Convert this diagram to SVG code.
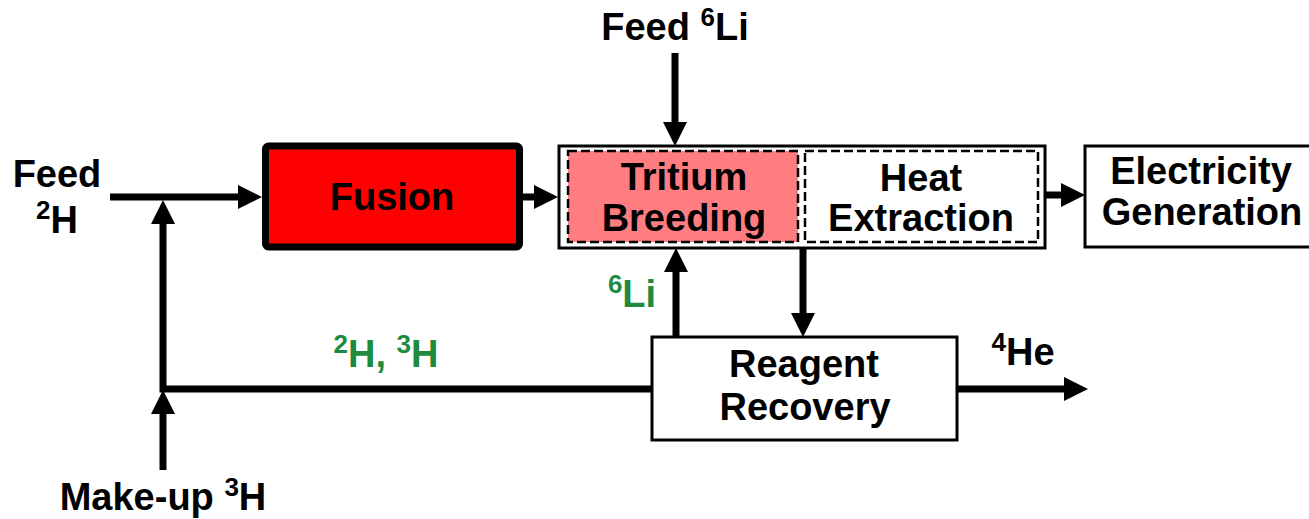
<svg xmlns="http://www.w3.org/2000/svg" width="1309" height="519" viewBox="0 0 1309 519">
  <style>
    text { font-family: "Liberation Sans", Arial, sans-serif; font-weight: bold; font-size: 38px; fill: #000; text-anchor: middle; }
    .green { fill: #1E8B3E; }
    .box { fill: #fff; stroke: #000; stroke-width: 3; }
    .dash { stroke: #000; stroke-width: 2.5; stroke-dasharray: 9 4; }
    .flow { fill: none; stroke: #000; stroke-width: 7; marker-end: url(#head); }
  </style>
  <defs>
    <marker id="head" viewBox="0 0 24 24" refX="2" refY="12" markerWidth="24" markerHeight="24" markerUnits="userSpaceOnUse" orient="auto">
      <path d="M0,0 L24,12 L0,24 Z" fill="#000"/>
    </marker>
  </defs>
  <rect width="1309" height="519" fill="#fff"/>

  <!-- connectors -->
  <g id="connectors">
    <path class="flow" d="M110,197 H240"/>
    <path class="flow" d="M163,470 V412"/>
    <path class="flow" d="M651,389 H163 V222"/>
    <path class="flow" d="M523,197 H536"/>
    <path class="flow" d="M675,53 V124"/>
    <path class="flow" d="M676,337 V270"/>
    <path class="flow" d="M803,248 V315"/>
    <path class="flow" d="M1045,195 H1063"/>
    <path class="flow" d="M957,389 H1066"/>
  </g>

  <!-- stream labels -->
  <g id="labels">
    <text x="57" y="187">Feed</text>
    <text x="57" y="233"><tspan font-size="26" dy="-14">2</tspan><tspan dy="14">H</tspan></text>
    <text x="675" y="40">Feed <tspan font-size="26" dy="-14">6</tspan><tspan dy="14">Li</tspan></text>
    <text x="163" y="510">Make-up <tspan font-size="26" dy="-14">3</tspan><tspan dy="14">H</tspan></text>
    <text class="green" x="386" y="367"><tspan font-size="26" dy="-14">2</tspan><tspan dy="14">H, </tspan><tspan font-size="26" dy="-14">3</tspan><tspan dy="14">H</tspan></text>
    <text class="green" x="632" y="307"><tspan font-size="26" dy="-14">6</tspan><tspan dy="14">Li</tspan></text>
    <text x="1023" y="365"><tspan font-size="26" dy="-14">4</tspan><tspan dy="14">He</tspan></text>
  </g>

  <!-- Fusion -->
  <g id="fusion">
    <rect x="265.5" y="146" width="254" height="101" rx="3" fill="#FF0000" stroke="#000" stroke-width="7"/>
    <text x="392" y="210">Fusion</text>
  </g>

  <!-- Blanket: tritium breeding + heat extraction -->
  <g id="blanket">
    <rect class="box" x="559" y="146" width="486" height="102"/>
  </g>
  <g id="tritium-breeding">
    <rect class="dash" x="568" y="151" width="230" height="91" fill="#FF7C80"/>
    <text x="684" y="190">Tritium</text>
    <text x="684" y="231">Breeding</text>
  </g>
  <g id="heat-extraction">
    <rect class="dash" x="805" y="151" width="233" height="91" fill="#fff"/>
    <text x="921" y="191">Heat</text>
    <text x="921" y="231">Extraction</text>
  </g>

  <!-- Electricity Generation -->
  <g id="electricity">
    <rect class="box" x="1085" y="146" width="240" height="101"/>
    <text x="1201" y="184">Electricity</text>
    <text x="1202" y="225">Generation</text>
  </g>

  <!-- Reagent Recovery -->
  <g id="reagent-recovery">
    <rect class="box" x="652" y="337" width="305" height="103"/>
    <text x="804" y="377">Reagent</text>
    <text x="805" y="420">Recovery</text>
  </g>
</svg>
